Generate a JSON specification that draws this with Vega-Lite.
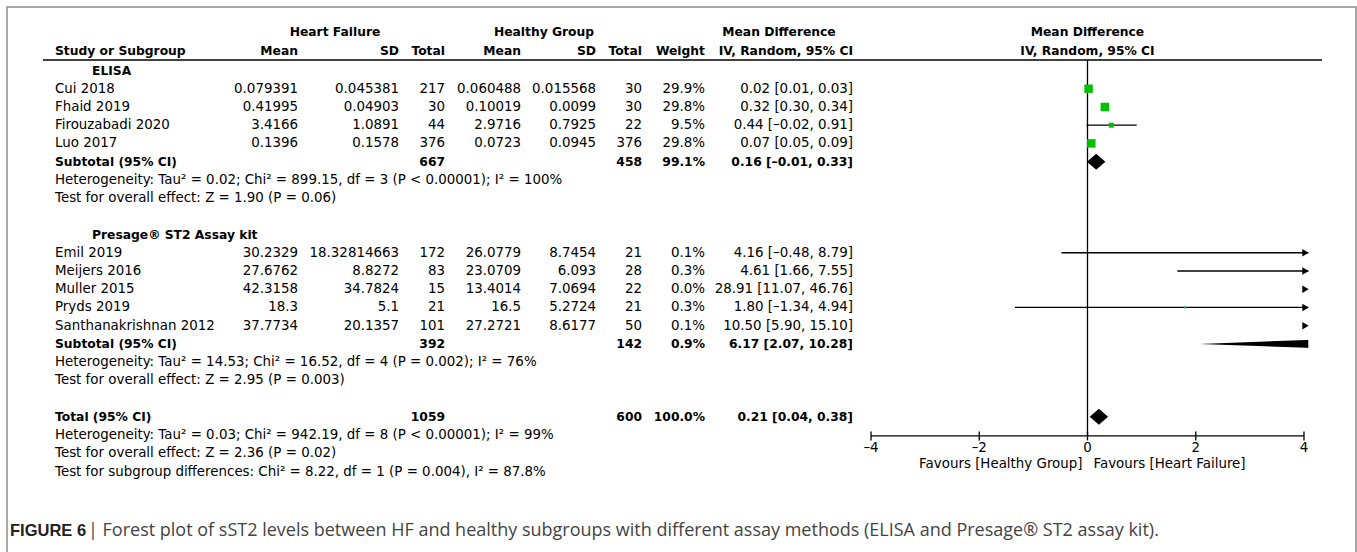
{
  "$schema": "https://vega.github.io/schema/vega-lite/v6.json",
  "width": 1357,
  "height": 552,
  "padding": 0,
  "autosize": {"type": "fit", "contains": "padding"},
  "background": "white",
  "config": {
    "view": {"stroke": null},
    "text": {"font": "DejaVu Sans", "fontSize": 13.4, "baseline": "middle", "color": "black"}
  },
  "datasets": {
    "rows": [
      {"row": -1.05, "kind": "colhead", "study": "Study or Subgroup", "hfm": "Mean", "hfsd": "SD", "hfn": "Total", "hgm": "Mean", "hgsd": "SD", "hgn": "Total", "wt": "Weight", "ci": "IV, Random, 95% CI"},
      {"row": 0, "kind": "group", "study": "ELISA"},
      {"row": 1, "kind": "study", "study": "Cui 2018", "hfm": 0.079391, "hfsd": 0.045381, "hfn": 217, "hgm": 0.060488, "hgsd": 0.015568, "hgn": 30, "wt": "29.9%", "ci": "0.02 [0.01, 0.03]", "est": 0.02, "lo": 0.01, "hi": 0.03, "w": 29.9},
      {"row": 2, "kind": "study", "study": "Fhaid 2019", "hfm": 0.41995, "hfsd": 0.04903, "hfn": 30, "hgm": 0.10019, "hgsd": 0.0099, "hgn": 30, "wt": "29.8%", "ci": "0.32 [0.30, 0.34]", "est": 0.32, "lo": 0.30, "hi": 0.34, "w": 29.8},
      {"row": 3, "kind": "study", "study": "Firouzabadi 2020", "hfm": 3.4166, "hfsd": 1.0891, "hfn": 44, "hgm": 2.9716, "hgsd": 0.7925, "hgn": 22, "wt": "9.5%", "ci": "0.44 [–0.02, 0.91]", "est": 0.44, "lo": -0.02, "hi": 0.91, "w": 9.5},
      {"row": 4, "kind": "study", "study": "Luo 2017", "hfm": 0.1396, "hfsd": 0.1578, "hfn": 376, "hgm": 0.0723, "hgsd": 0.0945, "hgn": 376, "wt": "29.8%", "ci": "0.07 [0.05, 0.09]", "est": 0.07, "lo": 0.05, "hi": 0.09, "w": 29.8},
      {"row": 5, "kind": "subtotal", "study": "Subtotal (95% CI)", "hfn": 667, "hgn": 458, "wt": "99.1%", "ci": "0.16 [–0.01, 0.33]", "est": 0.16, "lo": -0.01, "hi": 0.33},
      {"row": 6, "kind": "note", "study": "Heterogeneity: Tau² = 0.02; Chi² = 899.15, df = 3 (P < 0.00001); I² = 100%"},
      {"row": 7, "kind": "note", "study": "Test for overall effect: Z = 1.90 (P = 0.06)"},
      {"row": 9, "kind": "group", "study": "Presage® ST2 Assay kit"},
      {"row": 10, "kind": "study", "study": "Emil 2019", "hfm": 30.2329, "hfsd": 18.32814663, "hfn": 172, "hgm": 26.0779, "hgsd": 8.7454, "hgn": 21, "wt": "0.1%", "ci": "4.16 [–0.48, 8.79]", "est": 4.16, "lo": -0.48, "hi": 8.79, "w": 0.1},
      {"row": 11, "kind": "study", "study": "Meijers 2016", "hfm": 27.6762, "hfsd": 8.8272, "hfn": 83, "hgm": 23.0709, "hgsd": 6.093, "hgn": 28, "wt": "0.3%", "ci": "4.61 [1.66, 7.55]", "est": 4.61, "lo": 1.66, "hi": 7.55, "w": 0.3},
      {"row": 12, "kind": "study", "study": "Muller 2015", "hfm": 42.3158, "hfsd": 34.7824, "hfn": 15, "hgm": 13.4014, "hgsd": 7.0694, "hgn": 22, "wt": "0.0%", "ci": "28.91 [11.07, 46.76]", "est": 28.91, "lo": 11.07, "hi": 46.76, "w": 0.0},
      {"row": 13, "kind": "study", "study": "Pryds 2019", "hfm": 18.3, "hfsd": 5.1, "hfn": 21, "hgm": 16.5, "hgsd": 5.2724, "hgn": 21, "wt": "0.3%", "ci": "1.80 [–1.34, 4.94]", "est": 1.80, "lo": -1.34, "hi": 4.94, "w": 0.3},
      {"row": 14, "kind": "study", "study": "Santhanakrishnan 2012", "hfm": 37.7734, "hfsd": 20.1357, "hfn": 101, "hgm": 27.2721, "hgsd": 8.6177, "hgn": 50, "wt": "0.1%", "ci": "10.50 [5.90, 15.10]", "est": 10.50, "lo": 5.90, "hi": 15.10, "w": 0.1},
      {"row": 15, "kind": "subtotal", "study": "Subtotal (95% CI)", "hfn": 392, "hgn": 142, "wt": "0.9%", "ci": "6.17 [2.07, 10.28]", "est": 6.17, "lo": 2.07, "hi": 10.28},
      {"row": 16, "kind": "note", "study": "Heterogeneity: Tau² = 14.53; Chi² = 16.52, df = 4 (P = 0.002); I² = 76%"},
      {"row": 17, "kind": "note", "study": "Test for overall effect: Z = 2.95 (P = 0.003)"},
      {"row": 19, "kind": "total", "study": "Total (95% CI)", "hfn": 1059, "hgn": 600, "wt": "100.0%", "ci": "0.21 [0.04, 0.38]", "est": 0.21, "lo": 0.04, "hi": 0.38},
      {"row": 20, "kind": "note", "study": "Heterogeneity: Tau² = 0.03; Chi² = 942.19, df = 8 (P < 0.00001); I² = 99%"},
      {"row": 21, "kind": "note", "study": "Test for overall effect: Z = 2.36 (P = 0.02)"},
      {"row": 22, "kind": "note", "study": "Test for subgroup differences: Chi² = 8.22, df = 1 (P = 0.004), I² = 87.8%"}
    ],
    "spans": [
      {"grp": "hf", "row": -2.1, "label": "Heart Failure"},
      {"grp": "hg", "row": -2.1, "label": "Healthy Group"},
      {"grp": "md", "row": -2.1, "label": "Mean Difference"},
      {"grp": "forest", "row": -2.1, "label": "Mean Difference"},
      {"grp": "forest", "row": -1.05, "label": "IV, Random, 95% CI"}
    ],
    "ticks": [
      {"t": -4, "label": "–4"},
      {"t": -2, "label": "–2"},
      {"t": 0, "label": "0"},
      {"t": 2, "label": "2"},
      {"t": 4, "label": "4"}
    ],
    "favours": [
      {"side": "left", "label": "Favours [Healthy Group]"},
      {"side": "right", "label": "Favours [Heart Failure]"}
    ],
    "caption": [
      {"part": "bold", "label": "FIGURE 6"},
      {"part": "rest", "label": "| Forest plot of sST2 levels between HF and healthy subgroups with different assay methods (ELISA and Presage® ST2 assay kit)."}
    ],
    "one": [{"k": 1}]
  },
  "layer": [
    {
      "data": {"name": "one"},
      "mark": {"type": "rule", "color": "black", "strokeWidth": 1.3},
      "encoding": {
        "x": {"datum": 0, "type": "quantitative", "scale": {"domain": [-4, 4], "range": [871, 1304], "zero": false, "nice": false}, "axis": null},
        "y": {"datum": -0.58, "type": "quantitative", "scale": {"domain": [0, 22], "range": [70.5, 471.5], "zero": false, "nice": false}, "axis": null},
        "y2": {"datum": 20.05}
      }
    },
    {
      "data": {"name": "rows"},
      "transform": [{"filter": "datum.kind === 'study'"}],
      "mark": {"type": "rule", "color": "black", "strokeWidth": 1.3, "clip": true},
      "encoding": {
        "x": {"field": "lo", "type": "quantitative", "scale": {"domain": [-4, 4], "range": [871, 1304], "zero": false, "nice": false}, "axis": null},
        "x2": {"field": "hi"},
        "y": {"field": "row", "type": "quantitative", "scale": {"domain": [0, 22], "range": [70.5, 471.5], "zero": false, "nice": false}, "axis": null}
      }
    },
    {
      "data": {"name": "rows"},
      "transform": [{"filter": "datum.kind === 'study'"}],
      "mark": {"type": "point", "shape": "square", "filled": true, "color": "#00c000", "opacity": 1, "strokeWidth": 0, "clip": true},
      "encoding": {
        "x": {"field": "est", "type": "quantitative", "scale": {"domain": [-4, 4], "range": [871, 1304], "zero": false, "nice": false}, "axis": null},
        "y": {"field": "row", "type": "quantitative", "scale": {"domain": [0, 22], "range": [70.5, 471.5], "zero": false, "nice": false}, "axis": null},
        "size": {"field": "w", "type": "quantitative", "scale": {"domain": [0, 30], "range": [3, 72]}, "legend": null}
      }
    },
    {
      "data": {"name": "rows"},
      "transform": [
        {"filter": "datum.kind === 'subtotal' || datum.kind === 'total'"},
        {"fold": ["lo", "est", "hi"], "as": ["key", "value"]}
      ],
      "mark": {"type": "area", "color": "black", "opacity": 1, "clip": true,
        "yOffset": {"expr": "datum.key === 'est' ? -8 : 0"},
        "y2Offset": {"expr": "datum.key === 'est' ? 8 : 0"}},
      "encoding": {
        "x": {"field": "value", "type": "quantitative", "scale": {"domain": [-4, 4], "range": [871, 1304], "zero": false, "nice": false}, "axis": null},
        "y": {"field": "row", "type": "quantitative", "scale": {"domain": [0, 22], "range": [70.5, 471.5], "zero": false, "nice": false}, "axis": null},
        "y2": {"field": "row"},
        "detail": {"field": "row", "type": "nominal"}
      }
    },
    {
      "data": {"name": "one"},
      "mark": {"type": "rect", "color": "white", "opacity": 1, "clip": true},
      "encoding": {
        "x": {"datum": 4.08, "type": "quantitative", "scale": {"domain": [-4, 4], "range": [871, 1304], "zero": false, "nice": false}, "axis": null},
        "x2": {"datum": 5},
        "y": {"datum": 9.5, "type": "quantitative", "scale": {"domain": [0, 22], "range": [70.5, 471.5], "zero": false, "nice": false}, "axis": null},
        "y2": {"datum": 15.6}
      }
    },
    {
      "data": {"name": "rows"},
      "transform": [{"filter": "datum.kind === 'study' && datum.hi > 4"}],
      "mark": {"type": "point", "shape": "triangle-right", "filled": true, "color": "black", "opacity": 1, "size": 55, "strokeWidth": 0, "xOffset": 1.5},
      "encoding": {
        "x": {"datum": 4, "type": "quantitative", "scale": {"domain": [-4, 4], "range": [871, 1304], "zero": false, "nice": false}, "axis": null},
        "y": {"field": "row", "type": "quantitative", "scale": {"domain": [0, 22], "range": [70.5, 471.5], "zero": false, "nice": false}, "axis": null}
      }
    },
    {
      "data": {"name": "one"},
      "mark": {"type": "rule", "color": "black", "strokeWidth": 1.5},
      "encoding": {
        "x": {"value": 43},
        "x2": {"value": 1322},
        "y": {"datum": -0.58, "type": "quantitative", "scale": {"domain": [0, 22], "range": [70.5, 471.5], "zero": false, "nice": false}, "axis": null}
      }
    },
    {
      "data": {"name": "one"},
      "mark": {"type": "rule", "color": "black", "strokeWidth": 1.3},
      "encoding": {
        "x": {"datum": -4, "type": "quantitative", "scale": {"domain": [-4, 4], "range": [871, 1304], "zero": false, "nice": false}, "axis": null},
        "x2": {"datum": 4},
        "y": {"datum": 20.05, "type": "quantitative", "scale": {"domain": [0, 22], "range": [70.5, 471.5], "zero": false, "nice": false}, "axis": null}
      }
    },
    {
      "data": {"name": "ticks"},
      "mark": {"type": "rule", "color": "black", "strokeWidth": 1.3, "yOffset": -4.5, "y2Offset": 4.5},
      "encoding": {
        "x": {"field": "t", "type": "quantitative", "scale": {"domain": [-4, 4], "range": [871, 1304], "zero": false, "nice": false}, "axis": null},
        "y": {"datum": 20.05, "type": "quantitative", "scale": {"domain": [0, 22], "range": [70.5, 471.5], "zero": false, "nice": false}, "axis": null},
        "y2": {"datum": 20.05}
      }
    },
    {
      "data": {"name": "ticks"},
      "mark": {"type": "text", "align": "center", "dy": 12.5},
      "encoding": {
        "x": {"field": "t", "type": "quantitative", "scale": {"domain": [-4, 4], "range": [871, 1304], "zero": false, "nice": false}, "axis": null},
        "y": {"datum": 20.05, "type": "quantitative", "scale": {"domain": [0, 22], "range": [70.5, 471.5], "zero": false, "nice": false}, "axis": null},
        "text": {"field": "label", "type": "nominal"}
      }
    },
    {
      "data": {"name": "favours"},
      "transform": [{"filter": "datum.side === 'left'"}],
      "mark": {"type": "text", "align": "right", "dx": -5, "dy": 28},
      "encoding": {
        "x": {"datum": 0, "type": "quantitative", "scale": {"domain": [-4, 4], "range": [871, 1304], "zero": false, "nice": false}, "axis": null},
        "y": {"datum": 20.05, "type": "quantitative", "scale": {"domain": [0, 22], "range": [70.5, 471.5], "zero": false, "nice": false}, "axis": null},
        "text": {"field": "label", "type": "nominal"}
      }
    },
    {
      "data": {"name": "favours"},
      "transform": [{"filter": "datum.side === 'right'"}],
      "mark": {"type": "text", "align": "left", "dx": 6, "dy": 28},
      "encoding": {
        "x": {"datum": 0, "type": "quantitative", "scale": {"domain": [-4, 4], "range": [871, 1304], "zero": false, "nice": false}, "axis": null},
        "y": {"datum": 20.05, "type": "quantitative", "scale": {"domain": [0, 22], "range": [70.5, 471.5], "zero": false, "nice": false}, "axis": null},
        "text": {"field": "label", "type": "nominal"}
      }
    },
    {
      "data": {"name": "spans"},
      "transform": [{"filter": "datum.grp === 'hf'"}],
      "mark": {"type": "text", "align": "center", "fontWeight": "bold", "fontSize": 12.3},
      "encoding": {
        "x": {"value": 335},
        "y": {"field": "row", "type": "quantitative", "scale": {"domain": [0, 22], "range": [70.5, 471.5], "zero": false, "nice": false}, "axis": null},
        "text": {"field": "label", "type": "nominal"}
      }
    },
    {
      "data": {"name": "spans"},
      "transform": [{"filter": "datum.grp === 'hg'"}],
      "mark": {"type": "text", "align": "center", "fontWeight": "bold", "fontSize": 12.3},
      "encoding": {
        "x": {"value": 544},
        "y": {"field": "row", "type": "quantitative", "scale": {"domain": [0, 22], "range": [70.5, 471.5], "zero": false, "nice": false}, "axis": null},
        "text": {"field": "label", "type": "nominal"}
      }
    },
    {
      "data": {"name": "spans"},
      "transform": [{"filter": "datum.grp === 'md'"}],
      "mark": {"type": "text", "align": "center", "fontWeight": "bold", "fontSize": 12.3},
      "encoding": {
        "x": {"value": 779},
        "y": {"field": "row", "type": "quantitative", "scale": {"domain": [0, 22], "range": [70.5, 471.5], "zero": false, "nice": false}, "axis": null},
        "text": {"field": "label", "type": "nominal"}
      }
    },
    {
      "data": {"name": "spans"},
      "transform": [{"filter": "datum.grp === 'forest'"}],
      "mark": {"type": "text", "align": "center", "fontWeight": "bold", "fontSize": 12.3},
      "encoding": {
        "x": {"datum": 0, "type": "quantitative", "scale": {"domain": [-4, 4], "range": [871, 1304], "zero": false, "nice": false}, "axis": null},
        "y": {"field": "row", "type": "quantitative", "scale": {"domain": [0, 22], "range": [70.5, 471.5], "zero": false, "nice": false}, "axis": null},
        "text": {"field": "label", "type": "nominal"}
      }
    },
    {
      "data": {"name": "rows"},
      "transform": [{"filter": "datum.kind === 'group'"}],
      "mark": {"type": "text", "align": "left", "fontWeight": "bold", "fontSize": 12.3},
      "encoding": {
        "x": {"value": 92},
        "y": {"field": "row", "type": "quantitative", "scale": {"domain": [0, 22], "range": [70.5, 471.5], "zero": false, "nice": false}, "axis": null},
        "text": {"field": "study", "type": "nominal"}
      }
    },
    {
      "data": {"name": "rows"},
      "transform": [{"filter": "datum.kind !== 'group'"}],
      "mark": {"type": "text", "align": "left",
        "fontWeight": {"expr": "datum.kind === 'study' || datum.kind === 'note' ? 'normal' : 'bold'"},
        "fontSize": {"expr": "datum.kind === 'study' || datum.kind === 'note' ? 13.4 : 12.3"}},
      "encoding": {
        "x": {"value": 55},
        "y": {"field": "row", "type": "quantitative", "scale": {"domain": [0, 22], "range": [70.5, 471.5], "zero": false, "nice": false}, "axis": null},
        "text": {"field": "study", "type": "nominal"}
      }
    },
    {
      "data": {"name": "rows"},
      "transform": [{"filter": "isValid(datum.hfm)"}],
      "mark": {"type": "text", "align": "right",
        "fontWeight": {"expr": "datum.kind === 'study' ? 'normal' : 'bold'"},
        "fontSize": {"expr": "datum.kind === 'study' ? 13.4 : 12.3"}},
      "encoding": {
        "x": {"value": 298},
        "y": {"field": "row", "type": "quantitative", "scale": {"domain": [0, 22], "range": [70.5, 471.5], "zero": false, "nice": false}, "axis": null},
        "text": {"field": "hfm", "type": "nominal"}
      }
    },
    {
      "data": {"name": "rows"},
      "transform": [{"filter": "isValid(datum.hfsd)"}],
      "mark": {"type": "text", "align": "right",
        "fontWeight": {"expr": "datum.kind === 'study' ? 'normal' : 'bold'"},
        "fontSize": {"expr": "datum.kind === 'study' ? 13.4 : 12.3"}},
      "encoding": {
        "x": {"value": 399},
        "y": {"field": "row", "type": "quantitative", "scale": {"domain": [0, 22], "range": [70.5, 471.5], "zero": false, "nice": false}, "axis": null},
        "text": {"field": "hfsd", "type": "nominal"}
      }
    },
    {
      "data": {"name": "rows"},
      "transform": [{"filter": "isValid(datum.hfn)"}],
      "mark": {"type": "text", "align": "right",
        "fontWeight": {"expr": "datum.kind === 'study' ? 'normal' : 'bold'"},
        "fontSize": {"expr": "datum.kind === 'study' ? 13.4 : 12.3"}},
      "encoding": {
        "x": {"value": 445},
        "y": {"field": "row", "type": "quantitative", "scale": {"domain": [0, 22], "range": [70.5, 471.5], "zero": false, "nice": false}, "axis": null},
        "text": {"field": "hfn", "type": "nominal"}
      }
    },
    {
      "data": {"name": "rows"},
      "transform": [{"filter": "isValid(datum.hgm)"}],
      "mark": {"type": "text", "align": "right",
        "fontWeight": {"expr": "datum.kind === 'study' ? 'normal' : 'bold'"},
        "fontSize": {"expr": "datum.kind === 'study' ? 13.4 : 12.3"}},
      "encoding": {
        "x": {"value": 521},
        "y": {"field": "row", "type": "quantitative", "scale": {"domain": [0, 22], "range": [70.5, 471.5], "zero": false, "nice": false}, "axis": null},
        "text": {"field": "hgm", "type": "nominal"}
      }
    },
    {
      "data": {"name": "rows"},
      "transform": [{"filter": "isValid(datum.hgsd)"}],
      "mark": {"type": "text", "align": "right",
        "fontWeight": {"expr": "datum.kind === 'study' ? 'normal' : 'bold'"},
        "fontSize": {"expr": "datum.kind === 'study' ? 13.4 : 12.3"}},
      "encoding": {
        "x": {"value": 596},
        "y": {"field": "row", "type": "quantitative", "scale": {"domain": [0, 22], "range": [70.5, 471.5], "zero": false, "nice": false}, "axis": null},
        "text": {"field": "hgsd", "type": "nominal"}
      }
    },
    {
      "data": {"name": "rows"},
      "transform": [{"filter": "isValid(datum.hgn)"}],
      "mark": {"type": "text", "align": "right",
        "fontWeight": {"expr": "datum.kind === 'study' ? 'normal' : 'bold'"},
        "fontSize": {"expr": "datum.kind === 'study' ? 13.4 : 12.3"}},
      "encoding": {
        "x": {"value": 642},
        "y": {"field": "row", "type": "quantitative", "scale": {"domain": [0, 22], "range": [70.5, 471.5], "zero": false, "nice": false}, "axis": null},
        "text": {"field": "hgn", "type": "nominal"}
      }
    },
    {
      "data": {"name": "rows"},
      "transform": [{"filter": "isValid(datum.wt)"}],
      "mark": {"type": "text", "align": "right",
        "fontWeight": {"expr": "datum.kind === 'study' ? 'normal' : 'bold'"},
        "fontSize": {"expr": "datum.kind === 'study' ? 13.4 : 12.3"}},
      "encoding": {
        "x": {"value": 705},
        "y": {"field": "row", "type": "quantitative", "scale": {"domain": [0, 22], "range": [70.5, 471.5], "zero": false, "nice": false}, "axis": null},
        "text": {"field": "wt", "type": "nominal"}
      }
    },
    {
      "data": {"name": "rows"},
      "transform": [{"filter": "isValid(datum.ci)"}],
      "mark": {"type": "text", "align": "right",
        "fontWeight": {"expr": "datum.kind === 'study' ? 'normal' : 'bold'"},
        "fontSize": {"expr": "datum.kind === 'study' ? 13.4 : 12.3"}},
      "encoding": {
        "x": {"value": 853},
        "y": {"field": "row", "type": "quantitative", "scale": {"domain": [0, 22], "range": [70.5, 471.5], "zero": false, "nice": false}, "axis": null},
        "text": {"field": "ci", "type": "nominal"}
      }
    },
    {
      "data": {"name": "caption"},
      "transform": [{"filter": "datum.part === 'bold'"}],
      "mark": {"type": "text", "align": "left", "font": "Liberation Sans", "fontSize": 16.5, "fontWeight": "bold", "color": "#222222"},
      "encoding": {"x": {"value": 10}, "y": {"value": 531}, "text": {"field": "label", "type": "nominal"}}
    },
    {
      "data": {"name": "caption"},
      "transform": [{"filter": "datum.part === 'rest'"}],
      "mark": {"type": "text", "align": "left", "font": "Open Sans", "fontSize": 18, "color": "#444444"},
      "encoding": {"x": {"value": 88}, "y": {"value": 531}, "text": {"field": "label", "type": "nominal"}}
    },
    {
      "data": {"name": "one"},
      "mark": {"type": "rect", "filled": false, "stroke": "#8a8a8a", "strokeWidth": 1.5, "clip": true},
      "encoding": {"x": {"value": 7}, "x2": {"value": 1356}, "y": {"value": 7}, "y2": {"value": 575}}
    }
  ]
}
